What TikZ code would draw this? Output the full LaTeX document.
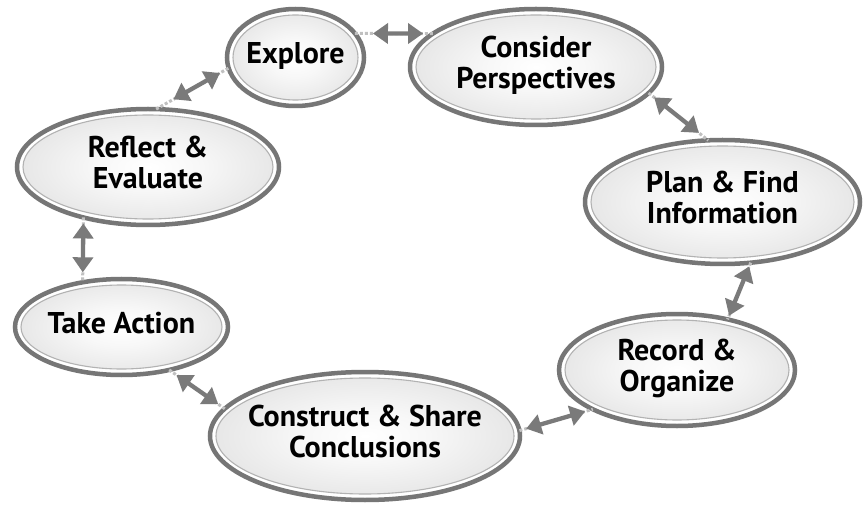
\documentclass[tikz,border=0pt]{standalone}
\usepackage{fontspec}
\setmainfont{PT Sans}
\usetikzlibrary{arrows.meta,shapes.geometric,calc}
\definecolor{gdark}{RGB}{118,118,118}
\definecolor{garrow}{RGB}{122,122,122}
\definecolor{gdot}{RGB}{192,192,192}
\pgfdeclareradialshading{ellshade}{\pgfpoint{0bp}{0bp}}{color(0bp)=(white); color(10bp)=(white!97!black); color(50bp)=(black!21)}
\newcommand\lbl[1]{\makebox[0pt]{\begin{tabular}{@{}c@{}}#1\end{tabular}}}
\tikzset{
  stage/.style n args={2}{ellipse, inner sep=0pt, outer sep=0pt,
    minimum width=#1, minimum height=#2, draw=gdark, line width=4.5pt, fill=white,
    font=\fontsize{30}{31}\selectfont\bfseries,
    path picture={\shade[shading=ellshade, draw=gray!60, line width=1.1pt]
      let \p1=(path picture bounding box.north east), \p2=(path picture bounding box.center) in
      (\p2) ellipse [x radius=\x1-\x2-6pt, y radius=\y1-\y2-6pt];}},
  dotlink/.style={draw=gdot, line width=3pt, dash pattern=on 3pt off 2pt},
  dblarrow/.style={draw=garrow, line width=4.3pt,
    {Triangle[length=15pt,width=20pt]}-{Triangle[length=15pt,width=20pt]}}
}
\newcommand\link[4]{\draw[dotlink] (#1) -- (#2);
  \draw[dblarrow, shorten <=#3, shorten >=#4] (#1) -- (#2);}
\begin{document}
\begin{tikzpicture}[x=1pt,y=-1pt]
\useasboundingbox (0,0) rectangle (865,505);
\fill[white] (0,0) rectangle (865,505);
\node[stage={137pt}{97pt}] (explore) at (295.5,57.5) {\lbl{Explore}};
\node[stage={252pt}{116pt}] (consider) at (536,67) {\lbl{Consider\\Perspectives}};
\node[stage={275pt}{124pt}] (plan) at (722.5,202) {\lbl{Plan \& Find\\Information}};
\node[stage={236pt}{112pt}] (record) at (677,370) {\lbl{Record \&\\Organize}};
\node[stage={310pt}{128pt}] (construct) at (365,436) {\lbl{Construct \& Share\\Conclusions}};
\node[stage={213pt}{96pt}] (take) at (121.5,327) {\lbl{Take Action}};
\node[stage={262pt}{116pt}] (reflect) at (148,167) {\lbl{Reflect \&\\Evaluate}};
\link{explore.22}{consider.162}{18pt}{10pt}
\link{consider.-13}{plan.103}{7pt}{12pt}
\link{plan.-65}{record.45}{4pt}{4pt}
\link{construct.2}{record.205}{7pt}{8pt}
\link{take.-42}{construct.169}{9pt}{8pt}
\link{reflect.218}{take.131}{6pt}{10pt}
\link{reflect.82}{explore.189}{20pt}{10pt}
\end{tikzpicture}
\end{document}
